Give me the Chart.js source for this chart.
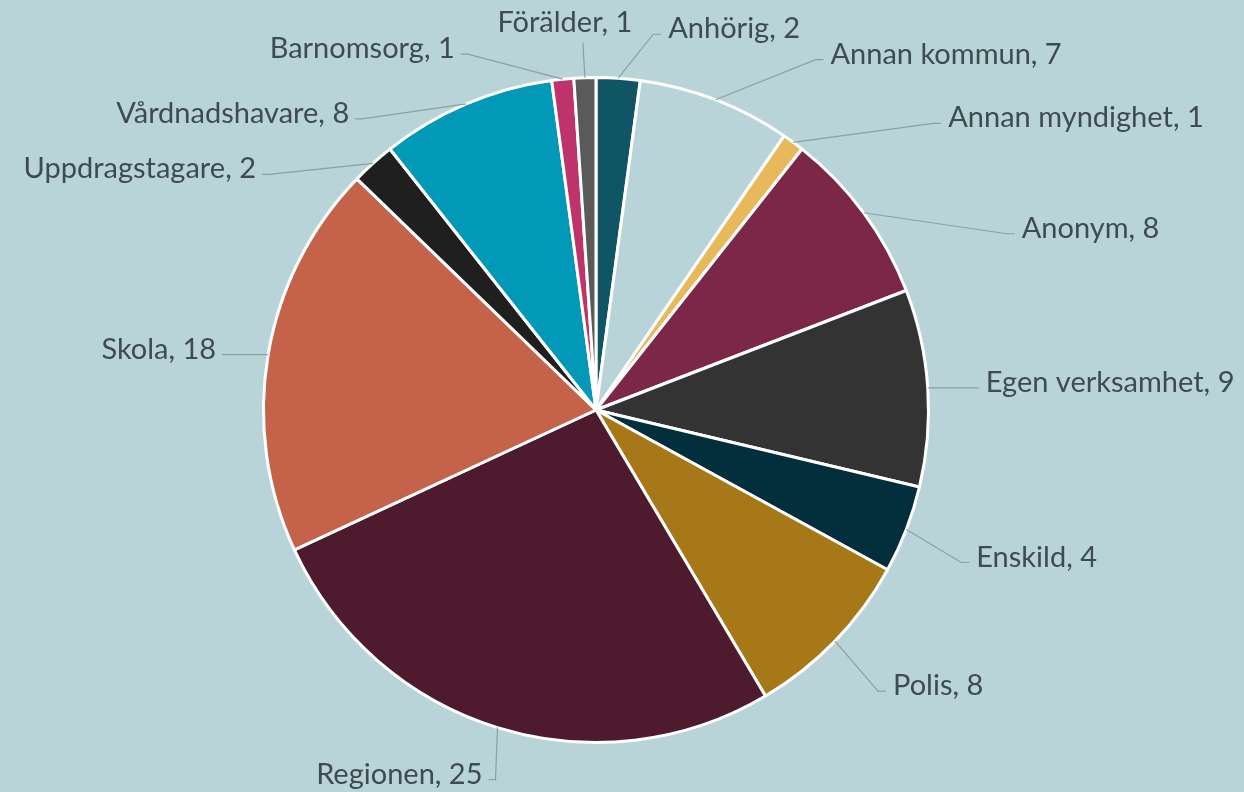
<!DOCTYPE html>
<html lang="sv">
<head>
  <meta charset="UTF-8" />
  <title>Ärenden per anmälare</title>
  <style>
    html, body {
      margin: 0;
      padding: 0;
      background: #b9d4d8;
    }
    #wrap {
      width: 1244px;
      height: 792px;
    }
  </style>
</head>
<body>
  <div id="wrap"><canvas id="pieChart" width="1244" height="792"></canvas></div>

  <script src="https://cdn.jsdelivr.net/npm/chart.js"></script>
  <script>
    // data, clockwise from 12 o'clock
    const categories = ["Anhörig", "Annan kommun", "Annan myndighet", "Anonym", "Egen verksamhet",
      "Enskild", "Polis", "Regionen", "Skola", "Uppdragstagare", "Vårdnadshavare", "Barnomsorg", "Förälder"];
    const counts = [2, 7, 1, 8, 9, 4, 8, 25, 18, 2, 8, 1, 1];
    const sliceColors = ["#0f5566", "#b9d4d8", "#e8b95a", "#7d2748", "#333333", "#032f3c", "#a77818",
      "#4d1a2e", "#c4624a", "#1f1f1f", "#0299b8", "#be336b", "#5a5a5a"];

    // label layout: bend point of the leader relative to the slice edge, and which side the text sits
    const labelBend = [
      [35, -44, "right"], [100, -40, "right"], [140, -19, "right"], [143, 21, "right"],
      [43, 0, "right"], [55, 33, "right"], [43, 50, "right"], [-2, 52, "left"],
      [-39, 0, "left"], [-104, 11, "left"], [-104, 15, "left"], [-95, -25, "left"], [-2, -35, "up"]
    ];

    const leaderLabels = {
      id: "leaderLabels",
      afterDraw(chart) {
        const ctx = chart.ctx;
        const arcs = chart.getDatasetMeta(0).data;
        ctx.save();
        ctx.font = "29px Lato";
        ctx.fillStyle = "#3e4b51";
        ctx.strokeStyle = "#8d9ea3";
        ctx.lineWidth = 1.2;
        arcs.forEach((arc, i) => {
          const p = arc.getProps(["x", "y", "startAngle", "endAngle", "outerRadius"], true);
          const mid = (p.startAngle + p.endAngle) / 2;
          const ex = p.x + Math.cos(mid) * p.outerRadius;
          const ey = p.y + Math.sin(mid) * p.outerRadius;
          const [dx, dy, side] = labelBend[i];
          const bx = ex + dx, by = ey + dy;
          const text = categories[i] + ", " + counts[i];

          ctx.beginPath();
          ctx.moveTo(ex, ey);
          ctx.lineTo(bx, by);
          if (side === "right") ctx.lineTo(bx + 8, by);
          if (side === "left") ctx.lineTo(bx - 7, by);
          ctx.stroke();

          ctx.textBaseline = "alphabetic";
          if (side === "right") {
            ctx.textAlign = "left";
            ctx.fillText(text, bx + 15, by + 4);
          } else if (side === "left") {
            ctx.textAlign = "right";
            ctx.fillText(text, bx - 13, by + 4);
          } else {
            ctx.textAlign = "center";
            ctx.fillText(text, bx - 18, by - 11);
          }
        });
        ctx.restore();
      }
    };

    new Chart(document.getElementById("pieChart"), {
      type: "pie",
      data: {
        labels: categories,
        datasets: [{
          data: counts,
          backgroundColor: sliceColors,
          borderColor: "#ffffff",
          borderWidth: 3
        }]
      },
      options: {
        responsive: false,
        animation: false,
        layout: {
          padding: { left: 262, right: 314, top: 76, bottom: 48 }
        },
        plugins: {
          legend: { display: false },
          tooltip: { enabled: false }
        }
      },
      plugins: [leaderLabels]
    });
  </script>
</body>
</html>
